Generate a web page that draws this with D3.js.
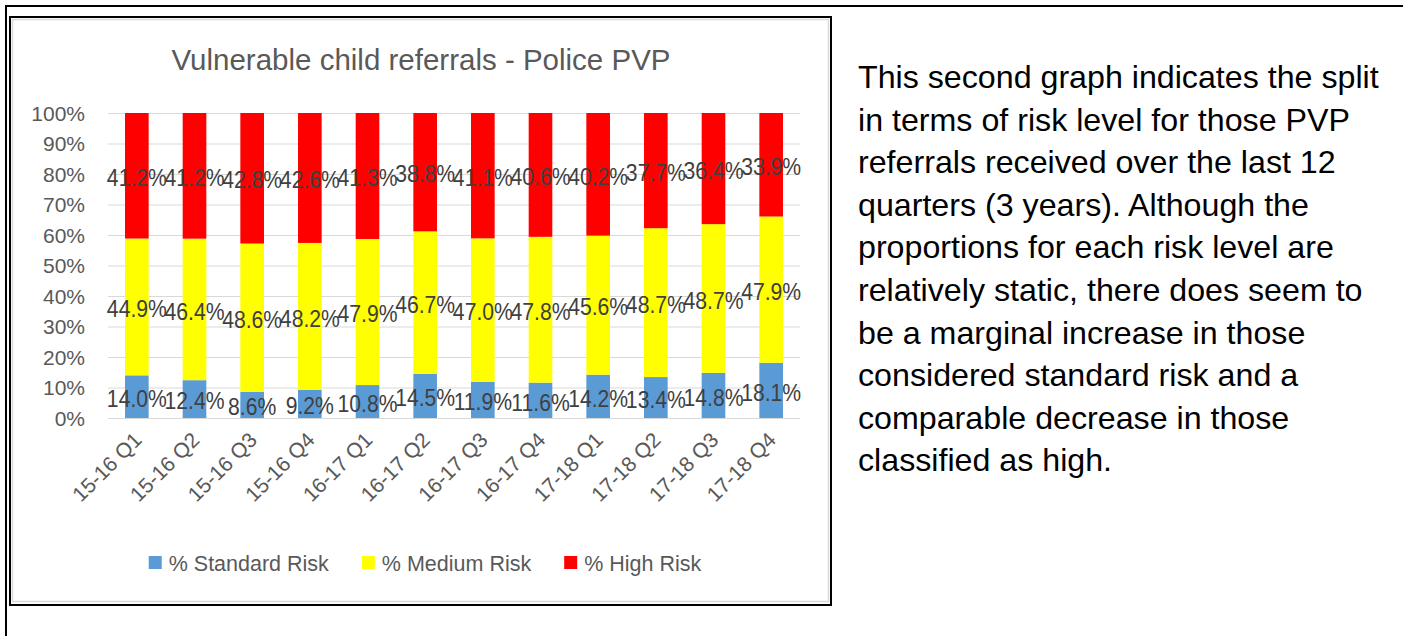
<!DOCTYPE html>
<html>
<head>
<meta charset="utf-8">
<script src="https://cdn.jsdelivr.net/npm/d3@7"></script>
<style>
  html, body { margin: 0; padding: 0; background: #ffffff; }
  svg { display: block; }
</style>
</head>
<body>
<svg id="chart" width="1403" height="636"></svg>
<script>
// ---------------- DATA ----------------
const quarters = ["15-16 Q1","15-16 Q2","15-16 Q3","15-16 Q4","16-17 Q1","16-17 Q2","16-17 Q3","16-17 Q4","17-18 Q1","17-18 Q2","17-18 Q3","17-18 Q4"];
const standardRisk = [14.0, 12.4, 8.6, 9.2, 10.8, 14.5, 11.9, 11.6, 14.2, 13.4, 14.8, 18.1];
const mediumRisk   = [44.9, 46.4, 48.6, 48.2, 47.9, 46.7, 47.0, 47.8, 45.6, 48.7, 48.7, 47.9];
const highRisk     = [41.2, 41.2, 42.8, 42.6, 41.3, 38.8, 41.1, 40.6, 40.2, 37.7, 36.4, 33.9];
const seriesNames  = ["% Standard Risk", "% Medium Risk", "% High Risk"];
const seriesColors = ["#5B9BD5", "#FFFF00", "#FF0000"];
const yTickValues  = [0, 0.1, 0.2, 0.3, 0.4, 0.5, 0.6, 0.7, 0.8, 0.9, 1.0];
const chartTitle   = "Vulnerable child referrals - Police PVP";
const noteLines = [
  "This second graph indicates the split",
  "in terms of risk level for those PVP",
  "referrals received over the last 12",
  "quarters (3 years). Although the",
  "proportions for each risk level are",
  "relatively static, there does seem to",
  "be a marginal increase in those",
  "considered standard risk and a",
  "comparable decrease in those",
  "classified as high."
];

// ---------------- BUILD ----------------
const FONT = "'Liberation Sans', Arial, sans-serif";
const svg = d3.select("#chart");
svg.append("rect").attr("width", 1403).attr("height", 636).attr("fill", "#fff");

// outer document table borders
svg.append("line").attr("x1", 5).attr("x2", 1403).attr("y1", 6).attr("y2", 6)
  .attr("stroke", "#000").attr("stroke-width", 2);
svg.append("line").attr("x1", 6).attr("x2", 6).attr("y1", 5).attr("y2", 636)
  .attr("stroke", "#000").attr("stroke-width", 2);

// chart image frame
svg.append("rect").attr("x", 10).attr("y", 17).attr("width", 821).attr("height", 588)
  .attr("fill", "#fff").attr("stroke", "#000").attr("stroke-width", 2);
svg.append("rect").attr("x", 12.5).attr("y", 19.5).attr("width", 816).attr("height", 582)
  .attr("fill", "none").attr("stroke", "#d9d9d9").attr("stroke-width", 1.5);

const plot = { left: 108, right: 800, top: 113, bottom: 418 };

const rows = quarters.map((q, i) => ({
  q, s0: standardRisk[i], s1: mediumRisk[i], s2: highRisk[i]
}));
const keys = ["s0", "s1", "s2"];
const stack = d3.stack().keys(keys).offset(d3.stackOffsetExpand);
const stacked = stack(rows);

const x = d3.scaleBand().domain(quarters).range([plot.left, plot.right]).paddingInner(0.59).paddingOuter(0.295);
const y = d3.scaleLinear().domain([0, 1]).range([plot.bottom, plot.top]);

// gridlines
svg.append("g").selectAll("line").data(yTickValues).join("line")
  .attr("x1", plot.left).attr("x2", plot.right)
  .attr("y1", d => y(d) + 0.5).attr("y2", d => y(d) + 0.5)
  .attr("stroke", "#d9d9d9").attr("stroke-width", 1);

// y axis
const yAxis = d3.axisLeft(y).tickValues(yTickValues).tickFormat(d3.format(".0%")).tickSize(0).tickPadding(0);
const yg = svg.append("g").attr("transform", `translate(85,0)`).call(yAxis);
yg.select(".domain").remove();
yg.selectAll("text").attr("font-family", FONT).attr("font-size", 21).attr("fill", "#595959").attr("dy", "0.35em");

// bars
const layers = svg.append("g").selectAll("g").data(stacked).join("g")
  .attr("fill", (d, i) => seriesColors[i]);
layers.selectAll("rect").data(d => d).join("rect")
  .attr("x", d => x(d.data.q))
  .attr("width", x.bandwidth())
  .attr("y", d => y(d[1]))
  .attr("height", d => y(d[0]) - y(d[1]));

// data labels
const labelG = svg.append("g");
stacked.forEach((layer, li) => {
  labelG.selectAll(null).data(layer).join("text")
    .attr("transform", d => `translate(${x(d.data.q) + x.bandwidth() / 2},${(y(d[0]) + y(d[1])) / 2 + 2}) scale(0.9,1)`)
    .attr("text-anchor", "middle")
    .attr("dy", "0.35em")
    .attr("font-family", FONT).attr("font-size", 23.5).attr("fill", "#404040")
    .text(d => d.data[layer.key].toFixed(1) + "%");
});

// x axis labels
const xAxis = d3.axisBottom(x).tickSize(0).tickPadding(0);
const xg = svg.append("g").attr("transform", `translate(0,${plot.bottom})`).call(xAxis);
xg.select(".domain").remove();
xg.selectAll(".tick text")
  .attr("font-family", FONT).attr("font-size", 21).attr("fill", "#595959")
  .attr("text-anchor", "end")
  .attr("y", 0).attr("dy", "0.35em")
  .attr("transform", "translate(1,18) rotate(-45)");

// title
svg.append("text").attr("x", 421).attr("y", 70).attr("text-anchor", "middle")
  .attr("font-family", FONT).attr("font-size", 29.5).attr("fill", "#595959")
  .text(chartTitle);

// legend
const legend = svg.append("g");
const items = legend.selectAll("g").data(seriesNames).join("g");
items.append("rect").attr("width", 13).attr("height", 13).attr("y", -7)
  .attr("fill", (d, i) => seriesColors[i]);
items.append("text").attr("x", 20).attr("dy", "0.35em")
  .attr("font-family", FONT).attr("font-size", 21.5).attr("fill", "#595959")
  .text(d => d);
let widths = [];
items.each(function () { widths.push(20 + d3.select(this).select("text").node().getComputedTextLength()); });
const gap = 33;
const total = d3.sum(widths) + gap * (widths.length - 1);
let cx = 425 - total / 2;
items.attr("transform", (d, i) => {
  const t = `translate(${cx},563)`;
  cx += widths[i] + gap;
  return t;
});

// note text
svg.append("g").selectAll("text").data(noteLines).join("text")
  .attr("x", 858).attr("y", (d, i) => 88 + i * 42.6)
  .attr("font-family", FONT).attr("font-size", 32.2).attr("fill", "#000")
  .text(d => d);
</script>
</body>
</html>
